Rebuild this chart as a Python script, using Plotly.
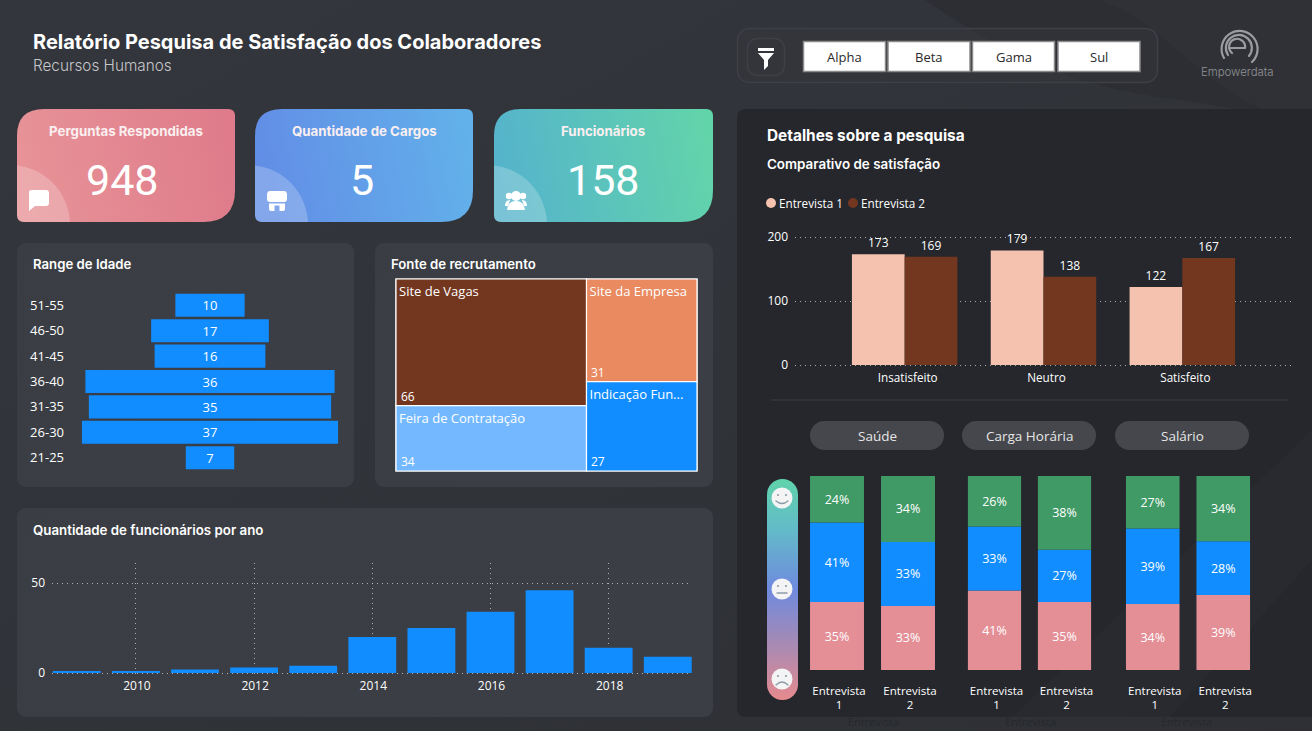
import urllib.parse
import plotly.graph_objects as go

W, H = 1312, 731

# ---------- data ----------
kpi_titles = ["Perguntas Respondidas", "Quantidade de Cargos", "Funcionários"]
kpi_values = [948, 5, 158]

age_ranges = ["51-55", "46-50", "41-45", "36-40", "31-35", "26-30", "21-25"]
age_counts = [10, 17, 16, 36, 35, 37, 7]

source_labels = ["Site de Vagas", "Feira de Contratação", "Site da Empresa", "Indicação Fun..."]
source_values = [66, 34, 31, 27]

years = [2009, 2010, 2011, 2012, 2013, 2014, 2015, 2016, 2017, 2018, 2019]
year_counts = [1, 1, 2, 3, 4, 20, 25, 34, 46, 14, 9]
year_ticks = [2010, 2012, 2014, 2016, 2018]

satisfaction_cats = ["Insatisfeito", "Neutro", "Satisfeito"]
entrevista1 = [173, 179, 122]
entrevista2 = [169, 138, 167]

topics = ["Saúde", "Carga Horária", "Salário"]
interviews = ["Entrevista<br>1", "Entrevista<br>2"]
unhappy = [[35, 33], [41, 35], [34, 39]]
neutral = [[41, 33], [33, 27], [39, 28]]
happy = [[24, 34], [26, 38], [27, 34]]
filters = ["Alpha", "Beta", "Gama", "Sul"]

# ---------- colours / fonts ----------
BLUE, BROWN, PEACH = "#118DFF", "#733720", "#F4C2AE"
GREEN, PINK = "#409A66", "#E48E96"
GRID = "rgba(205,205,205,0.8)"
HEAD = "Inter"
BODY = "Open Sans"


def fx(px):
    return px / W


def fy(py):
    return 1 - py / H


# ---------- decorative background drawn as one SVG ----------
def card(x, y, w, h, tl=27, tr=7, br=32, bl=7):
    return (f"M{x+tl},{y} H{x+w-tr} Q{x+w},{y} {x+w},{y+tr} V{y+h-br} Q{x+w},{y+h} {x+w-br},{y+h} "
            f"H{x+bl} Q{x},{y+h} {x},{y+h-bl} V{y+tl} Q{x},{y} {x+tl},{y} Z")


cards = [(17, 109, 218, 113, "g1"), (255, 109, 218, 113, "g2"), (494, 109, 219, 113, "g3")]
svg = [f'<svg xmlns="http://www.w3.org/2000/svg" width="{W}" height="{H}" viewBox="0 0 {W} {H}"><defs>']
for gid, a, b in [("g1", "#E79397", "#DF7B8B"), ("g2", "#628DE6", "#62B1EA"), ("g3", "#55B3CC", "#62D4AA")]:
    svg.append(f'<linearGradient id="{gid}" x1="0" y1="0.5" x2="1" y2="0.4"><stop offset="0" stop-color="{a}"/>'
               f'<stop offset="1" stop-color="{b}"/></linearGradient>')
svg.append('<linearGradient id="bg" x1="0" y1="0" x2="1" y2="1"><stop offset="0" stop-color="#33363C"/>'
           '<stop offset="1" stop-color="#2E3035"/></linearGradient>'
           '<linearGradient id="sl" x1="0" y1="0" x2="0" y2="1"><stop offset="0" stop-color="#60D3AA"/>'
           '<stop offset="0.22" stop-color="#62BCC8"/><stop offset="0.5" stop-color="#6F8ADF"/>'
           '<stop offset="0.72" stop-color="#A08AB8"/><stop offset="1" stop-color="#E68A8E"/></linearGradient>'
           '<linearGradient id="pn" x1="0" y1="0" x2="1" y2="0.3"><stop offset="0" stop-color="#3A3D43"/>'
           '<stop offset="1" stop-color="#3B3E44"/></linearGradient>')
for i, (x, y, w, h, gid) in enumerate(cards):
    svg.append(f'<clipPath id="c{i}"><path d="{card(x, y, w, h)}"/></clipPath>')
svg.append('</defs>')
svg.append(f'<rect width="{W}" height="{H}" fill="url(#bg)"/>')
svg.append('<path d="M925,0 C1000,50 1060,85 1180,100 C1240,108 1290,120 1312,135 V0 Z" fill="#2C2E33"/>')
svg.append('<path d="M1100,0 C1180,30 1200,100 1312,125 V0 Z" fill="#2F3136"/>')
for x, y, w, h in [(17, 243, 337, 244), (375, 243, 338, 244), (17, 508, 696, 209)]:
    svg.append(f'<rect x="{x}" y="{y}" width="{w}" height="{h}" rx="9" fill="url(#pn)"/>')
svg.append('<path d="M746,109 H1312 V717 H746 Q737,717 737,708 V118 Q737,109 746,109 Z" fill="#25272C"/>')
svg.append('<path d="M1012,717 L1312,430 V560 L1170,717 Z" fill="#282A2F"/>')
for i, (x, y, w, h, gid) in enumerate(cards):
    svg.append(f'<path d="{card(x, y, w, h)}" fill="url(#{gid})"/>')
    svg.append(f'<circle cx="{x-7}" cy="{y+h+3}" r="60" fill="#FFFFFF" fill-opacity="0.22" clip-path="url(#c{i})"/>')
# KPI icons
svg.append('<path d="M29,192 Q29,190 32,190 H46 Q49,190 49,193 V203 Q49,206 46,206 H35 L29,211 Z" fill="#fff"/>')
svg.append('<path d="M270,191 H284 Q287,191 287,195 V199 Q287,202 284,202 H270 Q267,202 267,199 V195 Q267,191 270,191 Z" fill="#fff"/>'
           '<path d="M269,203.5 H285 V209 Q285,211 283,211 H279.5 V205.5 H274.5 V211 H271 Q269,211 269,209 Z" fill="#fff"/>')
svg.append('<circle cx="516" cy="196" r="5" fill="#fff"/><path d="M507,210 Q508,201 516,201 Q524,201 525,210 Z" fill="#fff"/>'
           '<circle cx="509" cy="196" r="3.2" fill="#fff"/><circle cx="523" cy="196" r="3.2" fill="#fff"/>'
           '<path d="M505,206 Q505,200 510,200 L508,206 Z M527,206 Q527,200 522,200 L524,206 Z" fill="#fff"/>')
# filter box
svg.append('<rect x="737.5" y="28.5" width="420" height="54" rx="12" fill="#34363C" fill-opacity="0.55" stroke="#3E4046" stroke-width="1.5"/>')
svg.append('<rect x="747.5" y="38.5" width="37" height="37" rx="10" fill="none" stroke="#3E4046" stroke-width="1.5"/>')
svg.append('<rect x="758" y="48" width="16" height="3" fill="#fff"/><path d="M758,53 H774 L768,60 V66 L764,70 V60 Z" fill="#fff"/>')
for x, w in [(803.5, 82), (888, 82), (972.5, 82), (1058, 82)]:
    svg.append(f'<rect x="{x}" y="41.5" width="{w}" height="30" fill="#fff" stroke="#8A8A8A" stroke-width="1.5"/>')
# logo
svg.append('<g fill="none" stroke="#9A9CA0" stroke-linecap="round">'
           '<path d="M1224,58 A18,18 0 1 1 1252,62" stroke-width="2.2"/>'
           '<path d="M1228,55 A13,13 0 1 1 1249,56" stroke-width="2.2"/>'
           '<path d="M1232,53 A8,8 0 1 1 1245,48 H1231" stroke-width="2.2"/></g>')
# divider, pills, slider
svg.append('<line x1="771" y1="400" x2="1288" y2="400" stroke="#3C3E44" stroke-width="1.2"/>')
for x in [810, 962, 1115]:
    svg.append(f'<rect x="{x}" y="421" width="134" height="29" rx="14.5" fill="#45474C"/>')
svg.append('<rect x="767" y="479" width="31" height="221" rx="15.5" fill="url(#sl)"/>')
for cy, mouth in [(498, "M776,501 Q782,506 788,501"), (589, "M777,593 H787"), (679, "M776,685 Q782,679 788,685")]:
    svg.append(f'<circle cx="782" cy="{cy}" r="10.5" fill="#F4F4F4"/>'
               f'<circle cx="778" cy="{cy-3}" r="1.1" fill="#8D9CA8"/><circle cx="786" cy="{cy-3}" r="1.1" fill="#8D9CA8"/>'
               f'<path d="{mouth}" fill="none" stroke="#8D9CA8" stroke-width="1.3" stroke-linecap="round"/>')
svg.append('</svg>')
bg_uri = "data:image/svg+xml;charset=utf-8," + urllib.parse.quote("".join(svg))

fig = go.Figure()


def text(px, py, s, size=12, color="#FFFFFF", family=BODY, weight=400, anchor="left"):
    fig.add_annotation(x=fx(px), y=fy(py), xref="paper", yref="paper", text=s, showarrow=False,
                       xanchor=anchor, yanchor="middle", align=anchor, borderpad=0, borderwidth=0,
                       font=dict(size=size, color=color, family=family, weight=weight))


# ---------- age funnel ----------
fig.add_trace(go.Funnel(y=age_ranges, x=age_counts, orientation="h", marker=dict(color=BLUE),
                        text=[str(v) for v in age_counts], textinfo="text", textposition="inside",
                        insidetextanchor="middle", insidetextfont=dict(color="#FFFFFF", size=13, family=BODY),
                        constraintext="none", connector=dict(visible=False), xaxis="x", yaxis="y"))

# ---------- yearly bars ----------
fig.add_trace(go.Bar(x=years, y=year_counts, width=0.81, marker=dict(color=BLUE, line=dict(width=0)), xaxis="x2", yaxis="y2"))

# ---------- comparison bars ----------
fig.add_trace(go.Bar(x=satisfaction_cats, y=entrevista1, name="Entrevista 1", marker=dict(color=PEACH, line=dict(width=0)),
                     text=entrevista1, textposition="outside", cliponaxis=False,
                     textfont=dict(color="#FFFFFF", size=12, family=BODY), xaxis="x3", yaxis="y3"))
fig.add_trace(go.Bar(x=satisfaction_cats, y=entrevista2, name="Entrevista 2", marker=dict(color=BROWN, line=dict(width=0)),
                     text=entrevista2, textposition="outside", cliponaxis=False,
                     textfont=dict(color="#FFFFFF", size=12, family=BODY), xaxis="x3", yaxis="y3"))

# ---------- stacked 100% bars ----------
for i in range(3):
    xa, ya = f"x{i+4}", f"y{i+4}"
    totals = [a + b + c for a, b, c in zip(unhappy[i], neutral[i], happy[i])]
    base = [0.0, 0.0]
    for vals, col in [(unhappy[i], PINK), (neutral[i], BLUE), (happy[i], GREEN)]:
        share = [100 * v / t for v, t in zip(vals, totals)]
        fig.add_trace(go.Bar(x=interviews, y=share, base=list(base), offsetgroup="stack",
                             marker=dict(color=col, line=dict(width=0)),
                             text=[f"{v}%" for v in vals], textposition="inside", insidetextanchor="middle",
                             constraintext="none",
                             textfont=dict(color="#FFFFFF", size=12.5, family=BODY), xaxis=xa, yaxis=ya))
        base = [b + s for b, s in zip(base, share)]

# ---------- treemap ----------
tm_ids = ["L", "R", "a", "b", "c", "d"]
tm_parents = ["", "", "L", "L", "R", "R"]
tm_values = [source_values[0] + source_values[1], source_values[2] + source_values[3]] + source_values
tm_text = ["", ""] + source_labels
fig.add_trace(go.Treemap(ids=tm_ids, parents=tm_parents, values=tm_values, labels=tm_text, branchvalues="total",
                         sort=False, tiling=dict(packing="slice-dice", pad=0),
                         marker=dict(colors=["rgba(0,0,0,0)", "rgba(0,0,0,0)", BROWN, "#74B9FF", "#E98A61", BLUE],
                                     line=dict(color="#FFFFFF", width=1.2), pad=dict(t=0, l=0, r=0, b=0)),
                         pathbar=dict(visible=False), textinfo="label", textposition="top left",
                         textfont=dict(color="#FFFFFF", size=13, family=BODY),
                         domain=dict(x=[fx(396), fx(697)], y=[fy(471), fy(279)])))
for (px, py), v in zip([(401, 396), (401, 461), (591, 372), (591, 461)], source_values):
    text(px, py, str(v), size=12)

# ---------- text ----------
text(33, 42, "Relatório Pesquisa de Satisfação dos Colaboradores", size=20, family=HEAD, weight=700)
text(33, 66, "Recursos Humanos", size=15.3, color="#C6C7CA", family=HEAD, weight=300)
for cx, t in zip([126, 364, 603], kpi_titles):
    text(cx, 131, t, size=13.3, family=HEAD, weight=700, color="#FBEFF0", anchor="center")
for cx, v in zip([122, 362, 603], kpi_values):
    text(cx, 180, str(v), size=43, family="Roboto", anchor="center")
text(33, 264, "Range de Idade", size=13.2, family=HEAD, weight=600)
text(391, 264, "Fonte de recrutamento", size=13.2, family=HEAD, weight=600)
text(33, 530, "Quantidade de funcionários por ano", size=13.3, family=HEAD, weight=600)
text(767, 135, "Detalhes sobre a pesquisa", size=15.4, family=HEAD, weight=700)
text(767, 164, "Comparativo de satisfação", size=13.4, family=HEAD, weight=600)
for cx, t in zip([844.5, 929, 1013.5, 1099], filters):
    text(cx, 56.5, t, size=13, color="#2A2A2A", anchor="center")
text(1237, 72, "Empowerdata", size=11.4, color="#8F9195", family=HEAD, weight=300, anchor="center")
for cx, t in zip([877, 1029, 1182], topics):
    text(cx, 435.5, t, size=13.5, color="#E6E6E6", anchor="center")
for cx in [873, 1030, 1186]:
    text(cx, 721.5, "Entrevista", size=11, color="#26282C", anchor="center")

shapes = []
for cx, col, lab in [(771, PEACH, "Entrevista 1"), (853, BROWN, "Entrevista 2")]:
    shapes.append(dict(type="circle", xref="paper", yref="paper", x0=fx(cx - 5), x1=fx(cx + 5), y0=fy(208), y1=fy(198),
                       fillcolor=col, line=dict(width=0)))
    text(cx + 8, 203.5, lab, size=11.7)

# ---------- axes ----------
def axis(px0, px1, **kw):
    d = dict(domain=[fx(px0), fx(px1)], showline=False, zeroline=False, showgrid=False, fixedrange=True,
             tickfont=dict(color="#FFFFFF", size=12, family=BODY), ticks="")
    d.update(kw)
    return d


def vaxis(py_top, py_bot, **kw):
    d = dict(domain=[fy(py_bot), fy(py_top)], showline=False, zeroline=False, showgrid=False, fixedrange=True,
             tickfont=dict(color="#FFFFFF", size=12, family=BODY), ticks="")
    d.update(kw)
    return d


DOTS = "1px,4px"
grid = dict(showgrid=True, gridcolor=GRID, griddash=DOTS, gridwidth=1)
age_font = dict(color="#FFFFFF", size=13, family=BODY)
iv_font = dict(color="#FFFFFF", size=11.5, family=BODY)
layout_axes = dict(
    xaxis=axis(66, 354, range=[-20.8, 20.8], showticklabels=False, anchor="y"),
    yaxis=vaxis(292.6, 470.4, type="category", categoryarray=age_ranges, categoryorder="array",
                range=[6.5, -0.5], anchor="x", ticklabelstandoff=1, tickfont=age_font),
    xaxis2=axis(52, 692, range=[2008.58, 2019.41], tickvals=year_ticks, anchor="y2", ticklabelstandoff=2,
                ticklabelshift=1, **grid),
    yaxis2=vaxis(563, 675, range=[-1.11, 61.11], tickvals=[0, 50], anchor="x2", ticklabelstandoff=6, **grid),
    xaxis3=axis(795, 1292, type="category", range=[-0.79, 2.79], anchor="y3", ticklabelstandoff=2, ticklabelshift=3,
                tickfont=dict(color="#FFFFFF", size=11.7, family=BODY)),
    yaxis3=vaxis(235, 367, range=[-3.125, 203.125], tickvals=[0, 100, 200], anchor="x3", ticklabelstandoff=6, **grid),
)
for i, (a, b) in enumerate([(801.5, 943.5), (959.5, 1099.5), (1117.5, 1258.5)]):
    layout_axes[f"xaxis{i+4}"] = axis(a, b, type="category", range=[-0.5, 1.5], anchor=f"y{i+4}",
                                      ticklabelstandoff=12, ticklabelshift=2, tickfont=iv_font)
    layout_axes[f"yaxis{i+4}"] = vaxis(476, 670, range=[0, 100], showticklabels=False, anchor=f"x{i+4}")

fig.update_layout(
    width=W, height=H, margin=dict(l=0, r=0, t=0, b=0, autoexpand=False), autosize=False,
    paper_bgcolor="#33363C", plot_bgcolor="rgba(0,0,0,0)", showlegend=False,
    barmode="group", bargap=0.24, bargroupgap=0, funnelgap=0.09,
    shapes=shapes,
    images=[dict(source=bg_uri, xref="paper", yref="paper", x=0, y=1, sizex=1, sizey=1,
                 xanchor="left", yanchor="top", sizing="stretch", layer="below")],
    **layout_axes,
)

fig.write_html("out.html", config=dict(displayModeBar=False),
               post_script="document.body.style.margin='0';document.body.style.overflow='hidden';")
